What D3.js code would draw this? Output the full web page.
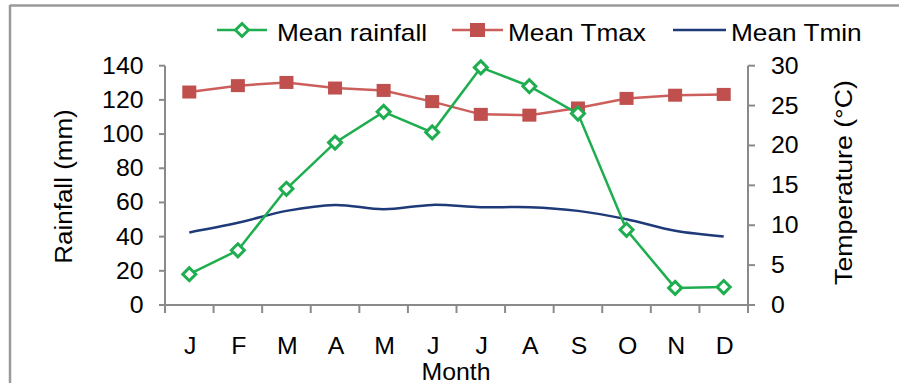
<!DOCTYPE html>
<html>
<head>
<meta charset="utf-8">
<script src="https://cdn.jsdelivr.net/npm/d3@7"></script>
<style>
  html, body { margin: 0; padding: 0; background: #fff; }
  svg { display: block; }
  text { font-family: "Liberation Sans", Arial, sans-serif; fill: #000; }
</style>
</head>
<body>
<svg id="chart" width="899" height="383"></svg>
<script>
// ---- data ----
const months = ["J","F","M","A","M","J","J","A","S","O","N","D"];
const rainfall = [18, 32, 68, 95, 113, 101, 139, 128, 112, 44, 10, 10.5];
const tmax = [26.7, 27.5, 27.9, 27.2, 26.9, 25.5, 23.9, 23.8, 24.7, 25.9, 26.3, 26.4];
const tmin = [9.1, 10.3, 11.8, 12.55, 12.0, 12.55, 12.26, 12.26, 11.8, 10.75, 9.3, 8.6];
const rainTicks = [0, 20, 40, 60, 80, 100, 120, 140];
const tempTicks = [0, 5, 10, 15, 20, 25, 30];
const seriesNames = ["Mean rainfall", "Mean Tmax", "Mean Tmin"];

// ---- layout ----
const W = 899, H = 383;
const pL = 165, pR = 748, pT = 65.7, pB = 305;
const green = "#1fae4f", red = "#c0504d", redLine = "#cc5f5b", navy = "#1f3a78", axisCol = "#8a8a8a";
const FS = 23, SX = 1.08;

const svg = d3.select("#chart");

// frame (top and left edges)
svg.append("line").attr("x1", 10).attr("x2", W).attr("y1", 5.5).attr("y2", 5.5)
  .attr("stroke", "#9a9a9a").attr("stroke-width", 2.5);
svg.append("line").attr("x1", 10).attr("x2", 10).attr("y1", 5).attr("y2", H)
  .attr("stroke", "#9a9a9a").attr("stroke-width", 2.5);

const x = d3.scaleBand().domain(d3.range(months.length)).range([pL, pR]);
const yR = d3.scaleLinear().domain([0, 140]).range([pB, pT]);
const yT = d3.scaleLinear().domain([0, 30]).range([pB, pT]);
const cx = i => x(i) + x.bandwidth() / 2;

function stext(g, str, tx, ty, anchor, rot, sx) {
  return g.append("text")
    .attr("transform", `translate(${tx},${ty})` + (rot ? ` rotate(${rot})` : "") + ` scale(${sx || SX},1)`)
    .attr("text-anchor", anchor)
    .attr("font-size", FS)
    .text(str);
}

// left axis
const gL = svg.append("g");
gL.append("line").attr("x1", pL).attr("x2", pL).attr("y1", pT).attr("y2", pB)
  .attr("stroke", axisCol).attr("stroke-width", 2);
rainTicks.forEach(v => {
  gL.append("line").attr("x1", pL - 6).attr("x2", pL).attr("y1", yR(v)).attr("y2", yR(v))
    .attr("stroke", axisCol).attr("stroke-width", 2);
  stext(gL, v, 143.5, yR(v) + 8, "end");
});

// right axis
const gR = svg.append("g");
gR.append("line").attr("x1", pR).attr("x2", pR).attr("y1", pT).attr("y2", pB)
  .attr("stroke", axisCol).attr("stroke-width", 2);
tempTicks.forEach(v => {
  gR.append("line").attr("x1", pR).attr("x2", pR + 7).attr("y1", yT(v)).attr("y2", yT(v))
    .attr("stroke", axisCol).attr("stroke-width", 2);
  stext(gR, v, 771, yT(v) + 8, "start");
});

// bottom axis
const gB = svg.append("g");
gB.append("line").attr("x1", pL).attr("x2", pR + 7).attr("y1", pB).attr("y2", pB)
  .attr("stroke", axisCol).attr("stroke-width", 2);
d3.range(months.length + 1).forEach(i => {
  const xx = i < months.length ? x(i) : pR;
  gB.append("line").attr("x1", xx).attr("x2", xx).attr("y1", pB).attr("y2", pB + 8)
    .attr("stroke", axisCol).attr("stroke-width", 2);
});
months.forEach((m, i) => stext(gB, m, cx(i) + 1, 353.5, "middle"));

// axis titles
stext(svg, "Month", 456, 379.5, "middle");
stext(svg, "Rainfall (mm)", 72, 186.5, "middle", -90, 1.13);
stext(svg, "Temperature (°C)", 852, 182.5, "middle", -90, 1.16);

// Tmin (smoothed)
svg.append("path")
  .datum(tmin)
  .attr("fill", "none").attr("stroke", navy).attr("stroke-width", 2.5)
  .attr("d", d3.line().x((d, i) => cx(i)).y(d => yT(d)).curve(d3.curveCardinal.tension(0)));

// Tmax
svg.append("path")
  .datum(tmax)
  .attr("fill", "none").attr("stroke", redLine).attr("stroke-width", 2.5)
  .attr("d", d3.line().x((d, i) => cx(i)).y(d => yT(d)));
svg.append("g").selectAll("rect").data(tmax).join("rect")
  .attr("x", (d, i) => cx(i) - 7).attr("y", d => yT(d) - 6.5)
  .attr("width", 14).attr("height", 13).attr("fill", red);

// Rainfall
svg.append("path")
  .datum(rainfall)
  .attr("fill", "none").attr("stroke", green).attr("stroke-width", 2.5)
  .attr("d", d3.line().x((d, i) => cx(i)).y(d => yR(d)));
const diamond = (px, py, r) => `M${px},${py - r}L${px + r},${py}L${px},${py + r}L${px - r},${py}Z`;
svg.append("g").selectAll("path").data(rainfall).join("path")
  .attr("d", (d, i) => diamond(cx(i), yR(d), 6.5))
  .attr("fill", "#fff").attr("stroke", green).attr("stroke-width", 3);

// legend
const lg = svg.append("g");
const ly = 30, LSX = 1.14;
lg.append("line").attr("x1", 217).attr("x2", 267).attr("y1", ly).attr("y2", ly).attr("stroke", green).attr("stroke-width", 2.5);
lg.append("path").attr("d", diamond(242, ly, 6.5)).attr("fill", "#fff").attr("stroke", green).attr("stroke-width", 3);
stext(lg, seriesNames[0], 277, 40.5, "start", 0, LSX);
lg.append("line").attr("x1", 452).attr("x2", 503).attr("y1", ly).attr("y2", ly).attr("stroke", redLine).attr("stroke-width", 2.5);
lg.append("rect").attr("x", 470).attr("y", ly - 7).attr("width", 15).attr("height", 14).attr("fill", red);
stext(lg, seriesNames[1], 508, 40.5, "start", 0, LSX);
lg.append("line").attr("x1", 673).attr("x2", 726).attr("y1", ly).attr("y2", ly).attr("stroke", navy).attr("stroke-width", 2.5);
stext(lg, seriesNames[2], 731, 40.5, "start", 0, LSX);
</script>
</body>
</html>
